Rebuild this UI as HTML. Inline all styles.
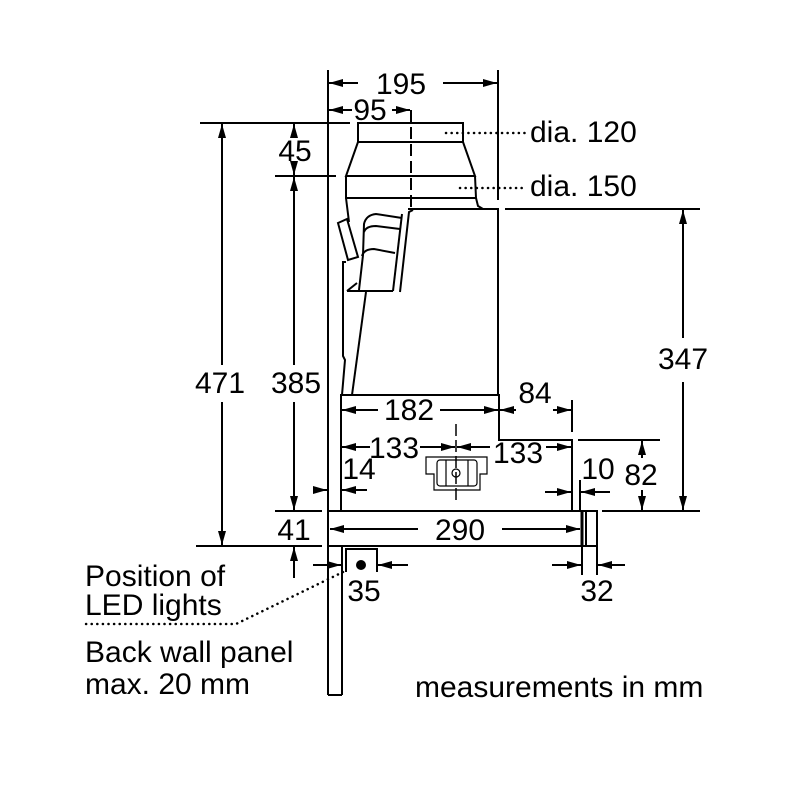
<!DOCTYPE html>
<html><head><meta charset="utf-8"><style>
html,body{margin:0;padding:0;background:#fff;}
svg{display:block;}
text{font-family:"Liberation Sans",sans-serif;fill:#000;}
</style></head><body>
<svg width="800" height="800" viewBox="0 0 800 800" xmlns="http://www.w3.org/2000/svg">
<defs>
<marker id="a" viewBox="0 0 14 10" refX="14" refY="5" markerWidth="14" markerHeight="10" markerUnits="userSpaceOnUse" orient="auto-start-reverse"><path d="M0,1 L14,5 L0,9Z" fill="#000"/></marker>
</defs>
<g stroke="#000" stroke-width="2" fill="none">
<line x1="328" y1="70" x2="328" y2="695"/>
<line x1="342" y1="546" x2="342" y2="695"/>
<line x1="328" y1="695" x2="342" y2="695"/>
<line x1="498" y1="70" x2="498" y2="200"/>
<rect x="328" y="511" width="269" height="35"/>
<line x1="582" y1="511" x2="582" y2="546" stroke-width="3"/>
<line x1="586" y1="511" x2="586" y2="546"/>
<polyline points="341,511 341,395 499,395 499,440 572,440 572,511"/>
<polyline points="408,209 498,209 498,395"/>
<polyline points="400,292 409,212 413,210"/>
<line x1="393" y1="291" x2="402" y2="214"/>
<rect x="358" y="123" width="105" height="19"/>
<polyline points="358,142 346,176 475,176 463,142"/>
<polyline points="346,176 346,198 476,198 475,176"/>
<polyline points="476,198 478,206 483,209"/>
<polyline points="346,198 349,222"/>
<polygon points="338,223 347,219 358,257 348,260"/>
<polyline points="346,262 343,262 343,356 345,360 342,395"/>
<line x1="366" y1="292" x2="352" y2="395"/>
<path d="M347,291 L393,291 M359,290 L363,255 L364,224 Q366,215 376,214 L402,218"/>
<path d="M364,232 Q366,226 376,226 L400,229"/>
<path d="M362,256 Q364,249 374,249 L395,253"/>
<line x1="347" y1="291" x2="357" y2="283"/>
<line x1="411" y1="110" x2="411" y2="210" stroke-dasharray="12,5"/>
<line x1="456" y1="424" x2="456" y2="502" stroke-dasharray="12,4" stroke-width="1.5"/>
<path d="M426,457 L487,457 L487,474 L480,474 L480,490 L434,490 L434,474 L426,474 Z" stroke-width="1.2"/>
<rect x="437" y="460" width="40" height="26" rx="3" stroke-width="1.2"/>
<line x1="446" y1="460" x2="446" y2="486" stroke-width="1.2"/>
<line x1="468" y1="460" x2="468" y2="486" stroke-width="1.2"/>
<circle cx="456" cy="473" r="4" stroke-width="1.2"/>
<line x1="200" y1="123" x2="350" y2="123"/>
<line x1="275" y1="176" x2="336" y2="176"/>
<line x1="275" y1="511" x2="322" y2="511"/>
<line x1="196" y1="546" x2="322" y2="546"/>
<line x1="505" y1="209" x2="700" y2="209"/>
<line x1="578" y1="440" x2="660" y2="440"/>
<line x1="602" y1="511" x2="700" y2="511"/>
<line x1="572" y1="400" x2="572" y2="432"/>
<line x1="580" y1="480" x2="580" y2="511"/>
<line x1="582" y1="546" x2="582" y2="575"/>
<line x1="597" y1="546" x2="597" y2="575"/>
<line x1="346" y1="548" x2="346" y2="572"/>
<line x1="377" y1="548" x2="377" y2="572"/>
<line x1="346" y1="549" x2="377" y2="549"/>
</g>
<g stroke="#000" stroke-width="2" fill="none" marker-end="url(#a)">
<line x1="358" y1="83" x2="329" y2="83"/><line x1="443" y1="83" x2="497" y2="83"/>
<line x1="352" y1="110" x2="329" y2="110"/><line x1="392" y1="110" x2="410" y2="110"/>
<line x1="222" y1="365" x2="222" y2="124"/>
<line x1="222" y1="402" x2="222" y2="545"/>
<line x1="294" y1="138" x2="294" y2="124"/><line x1="294" y1="164" x2="294" y2="175"/>
<line x1="294" y1="365" x2="294" y2="177"/><line x1="294" y1="402" x2="294" y2="510"/>
<line x1="294" y1="578" x2="294" y2="547"/>
<line x1="313" y1="490" x2="327" y2="490"/><line x1="367" y1="490" x2="342" y2="490"/>
<line x1="378" y1="410" x2="342" y2="410"/><line x1="440" y1="410" x2="498" y2="410"/>
<line x1="516" y1="410" x2="500" y2="410"/><line x1="553" y1="410" x2="571" y2="410"/>
<line x1="370" y1="447" x2="342" y2="447"/><line x1="420" y1="447" x2="455" y2="447"/>
<line x1="490" y1="447" x2="457" y2="447"/><line x1="546" y1="447" x2="571" y2="447"/>
<line x1="545" y1="492" x2="571" y2="492"/><line x1="610" y1="492" x2="581" y2="492"/>
<line x1="418" y1="529" x2="330" y2="529"/><line x1="502" y1="529" x2="580" y2="529"/>
<line x1="683" y1="338" x2="683" y2="210"/><line x1="683" y1="382" x2="683" y2="510"/>
<line x1="642" y1="458" x2="642" y2="441"/><line x1="642" y1="490" x2="642" y2="510"/>
<line x1="552" y1="565" x2="581" y2="565"/><line x1="625" y1="565" x2="598" y2="565"/>
<line x1="313" y1="565" x2="341" y2="565"/><line x1="408" y1="565" x2="378" y2="565"/>
</g>
<circle cx="361" cy="565" r="5" fill="#000"/>
<g stroke="#000" stroke-width="2.5" fill="none" stroke-dasharray="0.1,5.5" stroke-linecap="round">
<line x1="446" y1="133" x2="525" y2="133"/>
<line x1="460" y1="188" x2="525" y2="188"/>
<polyline points="343,572 236,624 84,624"/>
</g>
<g font-size="30">
<text x="401" y="94" text-anchor="middle">195</text>
<text x="370" y="120" text-anchor="middle">95</text>
<text x="295" y="161" text-anchor="middle">45</text>
<text x="220" y="393" text-anchor="middle">471</text>
<text x="296" y="393" text-anchor="middle">385</text>
<text x="683" y="369" text-anchor="middle">347</text>
<text x="409" y="420" text-anchor="middle">182</text>
<text x="535" y="403" text-anchor="middle">84</text>
<text x="394" y="458" text-anchor="middle">133</text>
<text x="518" y="463" text-anchor="middle">133</text>
<text x="359" y="479" text-anchor="middle">14</text>
<text x="598" y="479" text-anchor="middle">10</text>
<text x="641" y="485" text-anchor="middle">82</text>
<text x="460" y="540" text-anchor="middle">290</text>
<text x="294" y="540" text-anchor="middle">41</text>
<text x="364" y="601" text-anchor="middle">35</text>
<text x="597" y="601" text-anchor="middle">32</text>
<text x="530" y="142">dia. 120</text>
<text x="530" y="196">dia. 150</text>
<text x="85" y="586">Position of</text>
<text x="85" y="615">LED lights</text>
<text x="85" y="662">Back wall panel</text>
<text x="85" y="694">max. 20 mm</text>
<text x="415" y="697">measurements in mm</text>
</g>
</svg>
</body></html>
